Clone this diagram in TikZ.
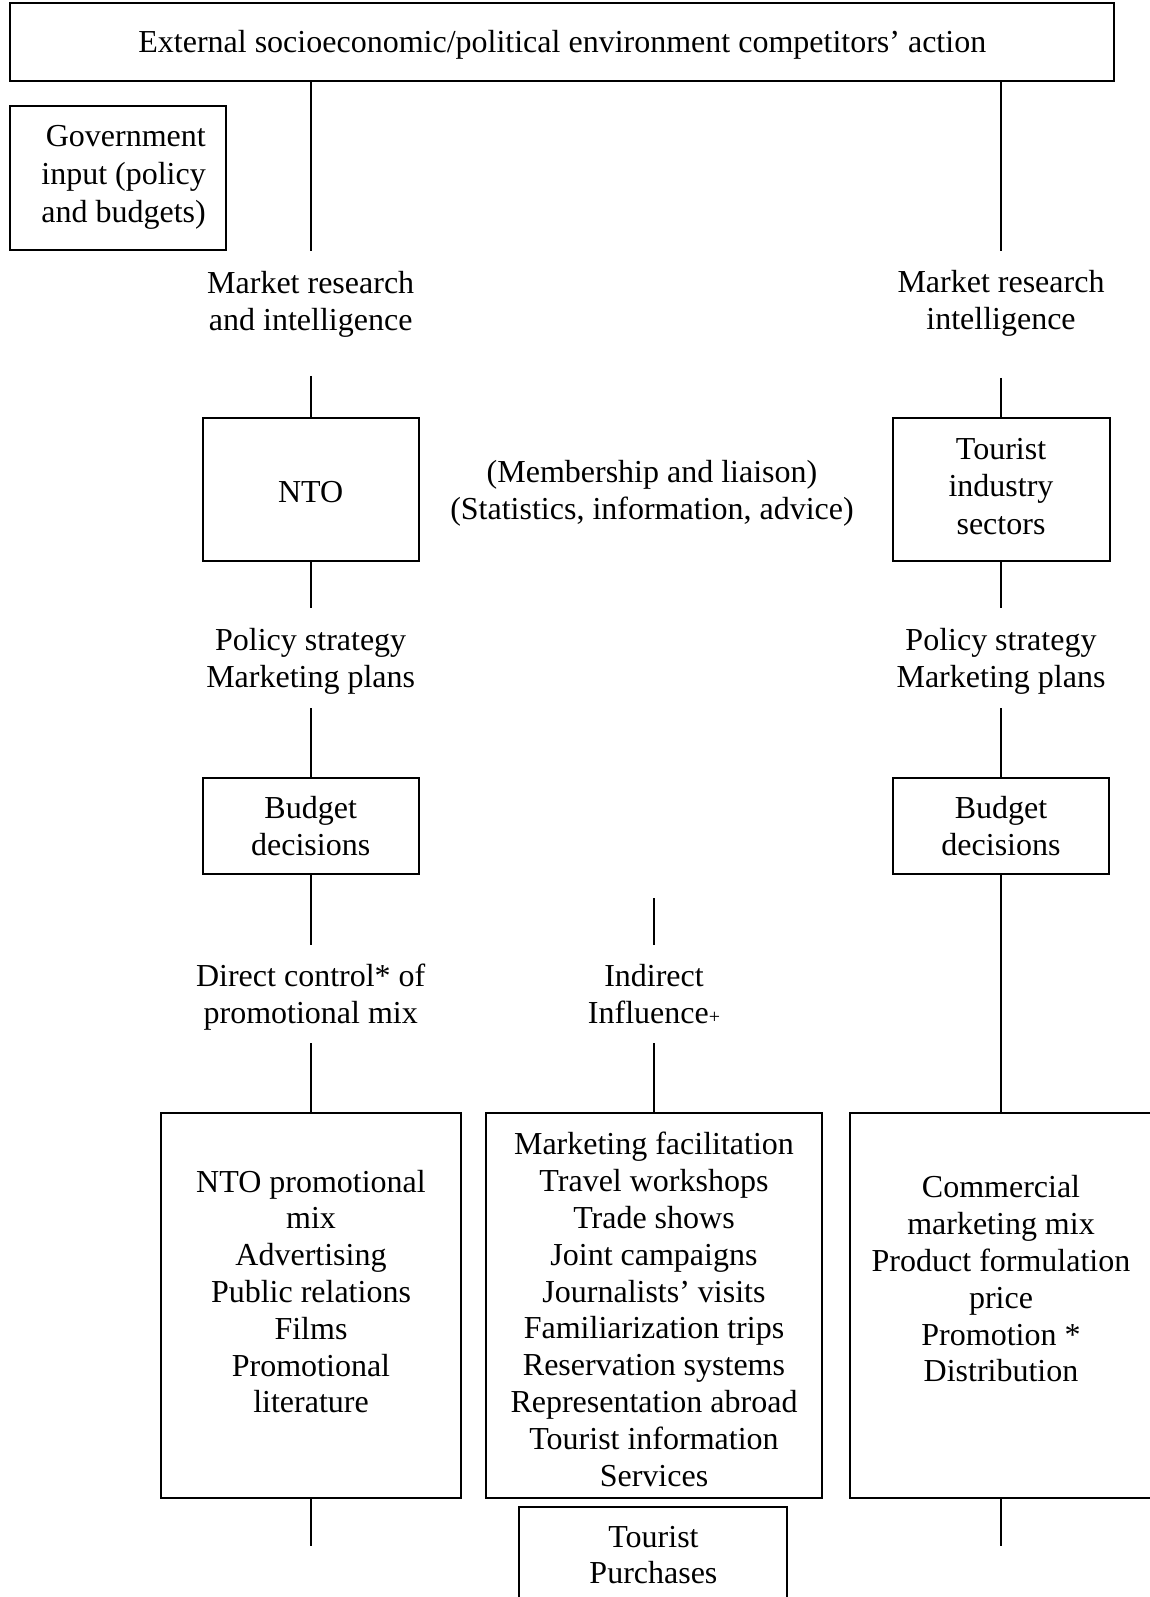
\documentclass[tikz,border=0pt]{standalone}
\usepackage{fontspec}
\setmainfont{Liberation Serif}
\begin{document}
\begin{tikzpicture}[x=1pt,y=-1pt,
  txt/.style={font=\fontsize{32}{36.8}\selectfont, align=center, inner sep=0pt},
  box/.style={draw, line width=2pt, inner sep=0pt},
  link/.style={line width=2pt}]
\useasboundingbox (0,0) rectangle (1150,1597);

% column positions
\def\xL{310.7}
\def\xM{654}
\def\xR{1001}

% boxes
\node[box, minimum width=1104, minimum height=78.4] (ext) at (562.25,42.3) {};
\node[box, minimum width=216, minimum height=143.7] (gov) at (118.15,177.75) {};
\node[box, minimum width=216, minimum height=143.6] (nto) at (\xL,489.4) {};
\node[box, minimum width=217, minimum height=143.6] (tis) at (\xR,489.4) {};
\node[box, minimum width=216, minimum height=95.8] (budL) at (\xL,826.1) {};
\node[box, minimum width=216, minimum height=95.8] (budR) at (\xR,826.1) {};
\node[box, minimum width=300.5, minimum height=385.1] (promo) at (311,1305.85) {};
\node[box, minimum width=336, minimum height=385.1] (mkt) at (\xM,1305.85) {};
\node[box, minimum width=302, minimum height=385.1] (comm) at (\xR,1305.85) {};
\node[box, minimum width=268, minimum height=110] (tp) at (653.45,1561.5) {};

% box texts
\node[txt] (exttxt) at (562.25,45.3)
  {External socioeconomic/political environment competitors’ action};
\node[txt, anchor=east, align=right, font=\fontsize{32}{38}\selectfont] (govtxt) at (206,177.2)
  {Government\\input (policy\\and budgets)};
\node[txt] (ntotxt) at (\xL,492.4) {NTO};
\node[txt, font=\fontsize{32}{37.4}\selectfont] (tistxt) at (\xR,486.4) {Tourist\\industry\\sectors};
\node[txt] (budLtxt) at (\xL,826.1) {Budget\\decisions};
\node[txt] (budRtxt) at (\xR,826.1) {Budget\\decisions};
\node[txt] (promotxt) at (311,1291.6)
  {NTO promotional\\mix\\Advertising\\Public relations\\Films\\Promotional\\literature};
\node[txt] (mkttxt) at (\xM,1309.4)
  {Marketing facilitation\\Travel workshops\\Trade shows\\Joint campaigns\\Journalists’ visits\\Familiarization trips\\Reservation systems\\Representation abroad\\Tourist information\\Services};
\node[txt] (commtxt) at (\xR,1278.9)
  {Commercial\\marketing mix\\Product formulation\\price\\Promotion *\\Distribution};
\node[txt] (tptxt) at (653.45,1555) {Tourist\\Purchases};

% free labels
\node[txt] (mrL) at (\xL,304) {Market research\\and intelligence};
\node[txt] (mrR) at (\xR,303) {Market research\\intelligence};
\node[txt] (memb) at (652,493) {(Membership and liaison)\\(Statistics, information, advice)};
\node[txt] (psL) at (\xL,661) {Policy strategy\\Marketing plans};
\node[txt] (psR) at (\xR,661) {Policy strategy\\Marketing plans};
\node[txt] (dc) at (\xL,997.2) {Direct control* of\\promotional mix};
\node[txt] (ind) at (\xM,994.2) {Indirect\\Influence{\fontsize{20}{20}\selectfont +}};

% free ends of the connectors
\coordinate (cL1) at (\xL,250.6);
\coordinate (cL2) at (\xL,375.9);
\coordinate (cL3) at (\xL,608);
\coordinate (cL4) at (\xL,708);
\coordinate (cL5) at (\xL,945.3);
\coordinate (cL6) at (\xL,1043);
\coordinate (cL7) at (\xL,1546.2);
\coordinate (cR1) at (\xR,250.6);
\coordinate (cR2) at (\xR,377.9);
\coordinate (cR3) at (\xR,608);
\coordinate (cR4) at (\xR,708);
\coordinate (cR5) at (\xR,1546.2);
\coordinate (cM1) at (\xM,898.4);
\coordinate (cM2) at (\xM,945.3);
\coordinate (cM3) at (\xM,1043);

% left column
\draw[link] (ext.south -| cL1) -- (cL1);
\draw[link] (cL2) -- (nto.north);
\draw[link] (nto.south) -- (cL3);
\draw[link] (cL4) -- (budL.north);
\draw[link] (budL.south) -- (cL5);
\draw[link] (cL6) -- (promo.north -| cL6);
\draw[link] (promo.south -| cL7) -- (cL7);

% right column
\draw[link] (ext.south -| cR1) -- (cR1);
\draw[link] (cR2) -- (tis.north);
\draw[link] (tis.south) -- (cR3);
\draw[link] (cR4) -- (budR.north);
\draw[link] (budR.south) -- (comm.north);
\draw[link] (comm.south) -- (cR5);

% middle column
\draw[link] (cM1) -- (cM2);
\draw[link] (cM3) -- (mkt.north);
\end{tikzpicture}
\end{document}
